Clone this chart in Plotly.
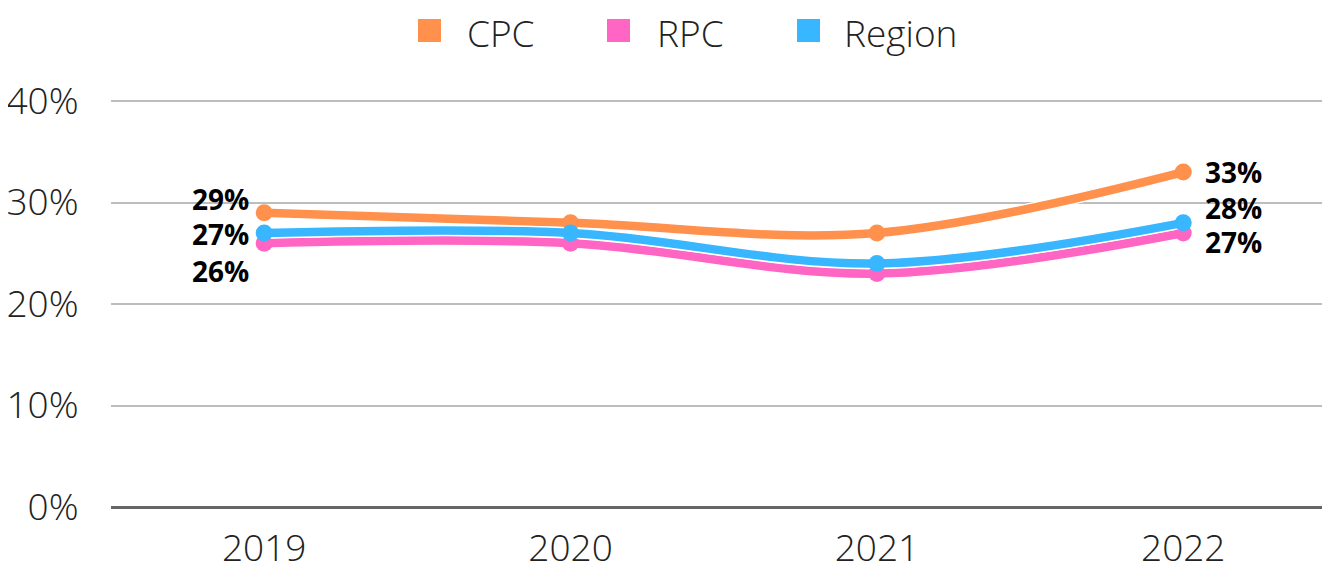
import plotly.graph_objects as go

years = ["2019", "2020", "2021", "2022"]
cpc = [29, 28, 27, 33]
rpc = [26, 26, 23, 27]
region = [27, 27, 24, 28]
y_ticks = [0, 10, 20, 30, 40]
y_tick_labels = ["0%", "10%", "20%", "30%", "40%"]

series = [
    ("CPC", cpc, "#FF914D"),
    ("RPC", rpc, "#FF66C4"),
    ("Region", region, "#38B6FF"),
]

OFF = 8  # page body margin
W, H = 1330 - OFF, 562 - OFF
ML, MR, MT, MB = 103, 0, 89, 55
PW, PH = W - ML - MR, H - MT - MB


def px_x(px):
    return (px - OFF - ML) / PW


def px_y(py):
    return (H - MB - (py - OFF)) / PH


xs = list(range(len(years)))
fig = go.Figure()
for name, vals, col in series:
    # thin white halo under each line
    fig.add_trace(go.Scatter(
        x=xs, y=vals, mode="lines",
        line=dict(color="white", width=11, shape="spline", smoothing=1),
        showlegend=False, hoverinfo="skip",
    ))
    fig.add_trace(go.Scatter(
        x=xs, y=vals, mode="lines+markers", name=name,
        line=dict(color=col, width=8.5, shape="spline", smoothing=1),
        marker=dict(color=col, size=17),
        showlegend=False, hoverinfo="skip",
    ))

# data labels for first and last points
offs_first = {"CPC": (-13, 14), "RPC": (-13, -28), "Region": (-13, -1)}
offs_last = {"CPC": (20, 0), "RPC": (20, -9), "Region": (20, 15)}
lab_font = dict(family="Open Sans", size=28, color="#000000", weight="bold")
for name, vals, col in series:
    dx, dy = offs_first[name]
    fig.add_annotation(x=xs[0], y=vals[0], text=f"{vals[0]}%", showarrow=False,
                       xanchor="right", yanchor="middle", xshift=dx, yshift=dy, font=lab_font)
    dx, dy = offs_last[name]
    fig.add_annotation(x=xs[-1], y=vals[-1], text=f"{vals[-1]}%", showarrow=False,
                       xanchor="left", yanchor="middle", xshift=dx, yshift=dy, font=lab_font)

# manual legend (square swatches + text)
leg_font = dict(family="Open Sans", size=37, color="#222222", weight=300)
leg_sq_left = [418, 607, 797]
leg_txt_left = [465, 655, 842]
for (name, vals, col), sx, tx in zip(series, leg_sq_left, leg_txt_left):
    fig.add_shape(type="rect", xref="paper", yref="paper",
                  x0=px_x(sx), x1=px_x(sx + 23), y0=px_y(42), y1=px_y(19),
                  fillcolor=col, line=dict(width=0))
    fig.add_annotation(xref="paper", yref="paper", x=px_x(tx), y=px_y(32),
                       text=name, showarrow=False, xanchor="left", yanchor="middle",
                       font=leg_font)

tick_font = dict(family="Open Sans", size=37, color="#222222", weight=300)
fig.update_layout(
    width=W, height=H,
    margin=dict(l=ML, r=MR, t=MT, b=MB, autoexpand=False),
    plot_bgcolor="white", paper_bgcolor="white",
    showlegend=False,
    xaxis=dict(tickmode="array", tickvals=xs, ticktext=years, range=[-0.5, 3.479],
               showgrid=False, zeroline=False, showline=False, tickfont=tick_font,
               ticks="outside", ticklen=9, tickcolor="rgba(0,0,0,0)", automargin=False),
    yaxis=dict(range=[0, 40.4], tickmode="array", tickvals=y_ticks, ticktext=y_tick_labels,
               showgrid=True, gridcolor="#BDBDBD", gridwidth=2,
               zeroline=True, zerolinecolor="#666666", zerolinewidth=3,
               showline=False, tickfont=tick_font,
               ticks="outside", ticklen=24, tickcolor="rgba(0,0,0,0)", automargin=False),
)
fig.write_html("out.html")
